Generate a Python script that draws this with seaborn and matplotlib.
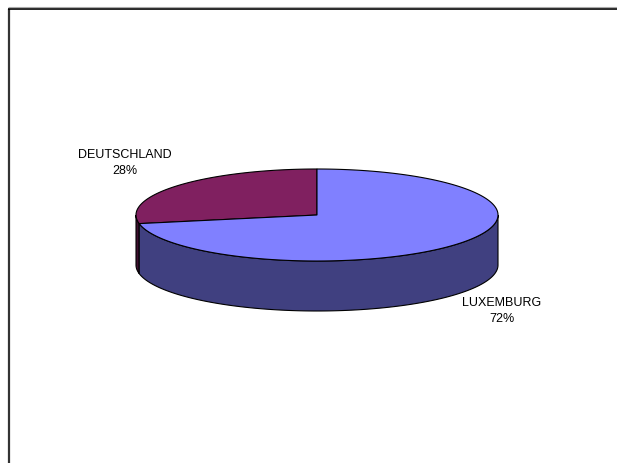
import numpy as np
import matplotlib
matplotlib.use("Agg")
import matplotlib.pyplot as plt
import seaborn as sns
from matplotlib.patches import Polygon

sns.set_style("white")
plt.rcParams['font.family'] = ['Liberation Sans', 'DejaVu Sans']

categories = ["DEUTSCHLAND", "LUXEMBURG"]
values = [28, 72]
top_colors = ["#802060", "#8080FF"]
side_colors = ["#401030", "#404080"]

fig = plt.figure(figsize=(6.17, 4.64), dpi=100)
ax = fig.add_axes([0, 0, 1, 1])
ax.set_xlim(0, 617)
ax.set_ylim(464, 0)
ax.axis("off")

# frame (only left and top edges visible)
ax.plot([8.5, 8.5], [10, 464], color="#333333", lw=1.6, solid_capstyle="butt")
ax.plot([8, 617], [10, 10], color="black", lw=1.2, solid_capstyle="butt")
ax.plot([8, 617], [8.3, 8.3], color="#aaaaaa", lw=0.8, solid_capstyle="butt")

cx, cy, a, b, depth = 317, 216, 181, 46, 50

def pt(theta_deg, dy=0.0):
    t = np.deg2rad(theta_deg)
    return cx + a * np.cos(t), cy - b * np.sin(t) + dy

total = sum(values)
start = 90.0
spans = []
ang = start
for v in values:
    sweep = 360.0 * v / total
    spans.append((ang, ang + sweep))
    ang += sweep

# side walls (front half: angles 180..360)
for (t1, t2), sc in zip(spans, side_colors):
    lo, hi = max(t1, 180.0), min(t2, 360.0)
    if lo < hi:
        th = np.linspace(lo, hi, 200)
        top = [pt(t) for t in th]
        bot = [pt(t, depth) for t in th[::-1]]
        ax.add_patch(Polygon(top + bot, closed=True, facecolor=sc,
                             edgecolor="black", lw=0.8, zorder=2))

# top faces
for (t1, t2), tc in zip(spans, top_colors):
    th = np.linspace(t1, t2, 300)
    pts = [(cx, cy)] + [pt(t) for t in th]
    ax.add_patch(Polygon(pts, closed=True, facecolor=tc,
                         edgecolor="black", lw=0.8, zorder=3))

# labels
label_pos = [(125, 163), (502, 311)]
for name, v, (lx, ly) in zip(categories, values, label_pos):
    pct = round(100 * v / total)
    ax.text(lx, ly, f"{name}\n{pct}%", ha="center", va="center",
            fontsize=9, linespacing=1.35, color="black", zorder=5)

fig.savefig("out.png", dpi=100)
